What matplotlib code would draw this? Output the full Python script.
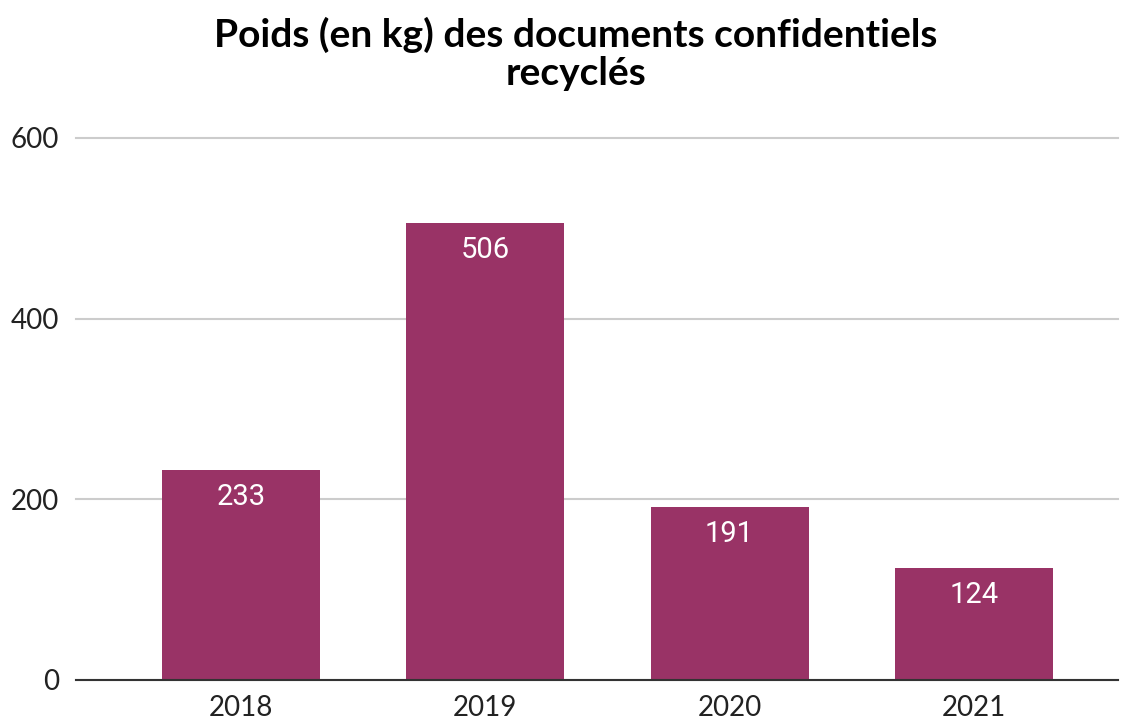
import matplotlib
matplotlib.use("Agg")
import matplotlib.pyplot as plt

years = ["2018", "2019", "2020", "2021"]
weights = [233, 506, 191, 124]
yticks = [0, 200, 400, 600]
title = "Poids (en kg) des documents confidentiels\nrecyclés"

bar_color = "#993366"

fig = plt.figure(figsize=(11.31, 7.23), dpi=100)
ax = fig.add_axes([76/1131, 43/723, (1118-76)/1131, (680-138)/723])

x = list(range(len(years)))
ax.bar(x, weights, width=0.647, color=bar_color, zorder=3)
ax.set_xlim(-0.675, 3.59)
ax.set_ylim(0, 600)

for xi, v in zip(x, weights):
    ax.annotate(str(v), (xi, v), xytext=(0, -27), textcoords="offset pixels",
                ha="center", va="center", color="white", fontsize=21,
                family="Roboto", zorder=4)

ax.set_yticks(yticks)
ax.set_yticklabels([str(t) for t in yticks])
ax.set_xticks(x)
ax.set_xticklabels(years)
ax.tick_params(axis="both", length=0, labelsize=20, colors="#222222")
ax.tick_params(axis="y", pad=12)
ax.tick_params(axis="x", pad=11)
for lab in ax.get_xticklabels() + ax.get_yticklabels():
    lab.set_family("Lato")

ax.grid(axis="y", color="#cccccc", linewidth=1.5, zorder=0)
for gl in ax.get_ygridlines():
    gl.set_clip_on(False)
for s in ["top", "right", "left"]:
    ax.spines[s].set_visible(False)
ax.spines["bottom"].set_color("#333333")
ax.spines["bottom"].set_linewidth(1.5)
ax.spines["bottom"].set_zorder(5)

fig.text(576/1131, 1 - 54/723, title, ha="center", va="center",
         fontsize=28, fontweight="bold", family="Lato", color="#000000",
         linespacing=1.12)

fig.savefig("out.png", dpi=100, facecolor="white")
